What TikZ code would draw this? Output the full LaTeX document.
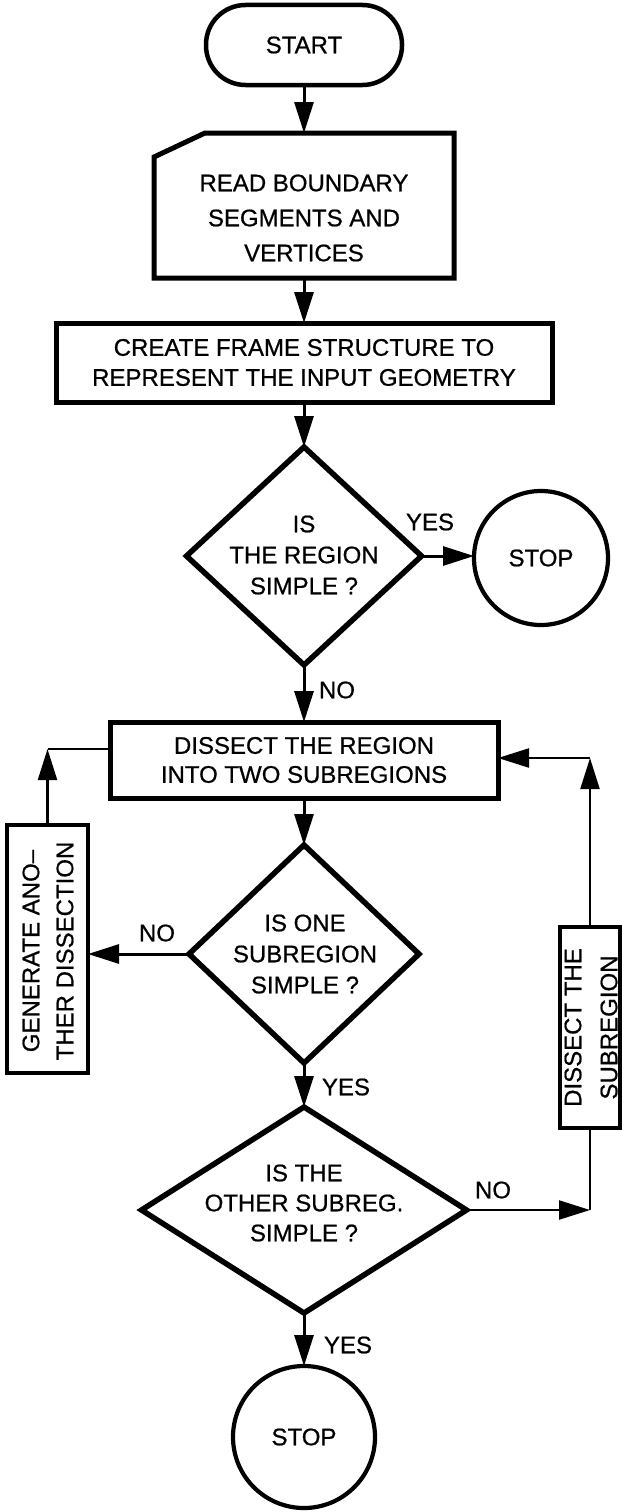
\documentclass[tikz,border=0pt]{standalone}
\usepackage{fontspec}
\setmainfont{Liberation Sans}[FakeBold=0.7]
\usetikzlibrary{arrows.meta,shapes.geometric}
\begin{document}
\begin{tikzpicture}[x=1pt,y=-1pt,
  every node/.style={inner sep=0pt, outer sep=0pt},
  txt/.style={align=center, font=\fontsize{24}{#1}\selectfont},
  txt/.default=31,
  procbox/.style={draw, rectangle, line width=5pt},
  decision/.style={draw, diamond, line width=5.5pt},
  stopcirc/.style={draw, circle, line width=4.2pt, font=\fontsize{24}{28}\selectfont},
  arr/.style={line width=3pt, -{Triangle[length=31pt,width=19pt]}},
  thinarr/.style={line width=2.2pt, -{Triangle[length=31pt,width=19pt]}},
  thinline/.style={line width=2.2pt},
  lbl/.style={font=\fontsize{24}{28}\selectfont}
]
\fill[white] (0,0) rectangle (621,1512);
\useasboundingbox (0,0) rectangle (621,1512);

% START
\node[draw, line width=4.5pt, rounded corners=39.5pt, minimum width=196pt, minimum height=80pt, txt] (start) at (304,45) {START};

% READ (cut corner)
\node[minimum width=300pt, minimum height=145pt] (read) at (304,205.5) {};
\draw[line width=5pt, line join=miter] ([yshift=-24pt]read.north west) -- ([xshift=51pt]read.north west) -- (read.north east) -- (read.south east) -- (read.south west) -- cycle;
\node[txt=35] (readt) at (304,218) {READ BOUNDARY\\SEGMENTS AND\\VERTICES};

% CREATE
\node[procbox, minimum width=496pt, minimum height=79pt, txt=30] (create) at (304,362.5) {CREATE FRAME STRUCTURE TO\\REPRESENT THE INPUT GEOMETRY};

% Decision 1
\node[decision, minimum width=235pt, minimum height=218pt] (d1) at (304,556) {};
\node[txt=31] (d1t) at (304,555) {IS\\THE REGION\\SIMPLE ?};
\node[stopcirc, minimum size=134pt] (stop1) at (541,558) {STOP};

% DISSECT
\node[procbox, minimum width=388pt, minimum height=76pt, txt=29] (dissect) at (304,760) {DISSECT THE REGION\\INTO TWO SUBREGIONS};

% Decision 2
\node[decision, minimum width=230pt, minimum height=218pt] (d2) at (304,954) {};
\node[txt=31] (d2t) at (305,954) {IS ONE\\SUBREGION\\SIMPLE ?};

% GENERATE box (left)
\node[procbox, line width=4.5pt, minimum width=81pt, minimum height=248pt] (gen) at (47.5,949) {};
\node[txt=34, rotate=90] (gent) at (48,951) {GENERATE ANO–\\THER DISSECTION};

% Decision 3
\node[decision, minimum width=325pt, minimum height=206pt] (d3) at (304,1210) {};
\node[txt=30] (d3t) at (304,1203) {IS THE\\OTHER SUBREG.\\SIMPLE ?};

% DISSECT THE SUBREGION box (right)
\node[procbox, line width=4.5pt, minimum width=60pt, minimum height=201pt] (sub) at (590,1027.5) {};
\node[txt=36, rotate=90] (subt) at (591,1027.5) {DISSECT THE\\SUBREGION};

% STOP 2
\node[stopcirc, minimum size=142pt] (stop2) at (304,1437) {STOP};

% labels
\node[lbl] (yes1) at (430,522) {YES};
\node[lbl] (no1) at (337,690) {NO};
\node[lbl] (no2) at (157,933) {NO};
\node[lbl] (yes2) at (346,1087) {YES};
\node[lbl] (no3) at (493,1190) {NO};
\node[lbl] (yes3) at (348,1345) {YES};

% connectors
\draw[arr] (start.south) -- (read.north);
\draw[arr] (read.south) -- (create.north);
\draw[arr] (create.south) -- (d1.north);
\draw[arr] (d1.east) -- (d1.east -| stop1.west);
\draw[arr] (d1.south) -- (dissect.north);
\draw[arr] (dissect.south) -- (d2.north);
\draw[arr] (d2.west) -- (d2.west -| gen.east);
\draw[arr] (d2.south) -- (d3.north);
\draw[arr] (d3.south) -- (stop2.north);

\coordinate (cl) at (47.5,749);
\draw[thinarr] (gen.north) -- (cl);
\draw[thinline] (cl) -- (cl -| dissect.west);

\coordinate (cr1) at (sub.south |- d3.east);
\draw[thinarr] (d3.east) -- (cr1);
\draw[thinline] (cr1) -- (sub.south);
\coordinate (cr2) at (590,758);
\draw[thinarr] (sub.north) -- (cr2);
\draw[thinarr] (cr2) -- (cr2 -| dissect.east);
\end{tikzpicture}
\end{document}
